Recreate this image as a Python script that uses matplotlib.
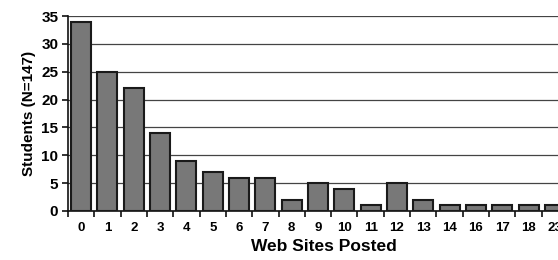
import matplotlib
matplotlib.use("Agg")
import matplotlib.pyplot as plt
import numpy as np

categories = ["0", "1", "2", "3", "4", "5", "6", "7", "8", "9", "10", "11", "12", "13", "14", "16", "17", "18", "23"]
students = [34, 25, 22, 14, 9, 7, 6, 6, 2, 5, 4, 1, 5, 2, 1, 1, 1, 1, 1]
y_ticks = [0, 5, 10, 15, 20, 25, 30, 35]

plt.rcParams['font.family'] = ['Liberation Sans', 'DejaVu Sans']

fig = plt.figure(figsize=(5.58, 2.6), dpi=100)
ax = fig.add_axes([68/558, 49/260, 500/558, 195/260])

x = np.arange(len(categories))
ax.bar(x, students, width=0.76, color="#787878", edgecolor="#1a1a1a", linewidth=1.5, zorder=3)

ax.set_xlim(-0.5, len(categories) - 0.5)
ax.set_ylim(0, 35)
ax.set_yticks(y_ticks)
ax.set_yticklabels([str(v) for v in y_ticks], fontweight="bold", fontsize=11)
ax.yaxis.grid(True, color="#444444", linewidth=0.9, zorder=0)

ax.set_xticks(x)
ax.set_xticklabels(categories, fontweight="bold", fontsize=9.5)
ax.tick_params(axis="x", which="major", length=0, pad=8)
ax.set_xticks(np.arange(-0.5, len(categories), 1), minor=True)
ax.tick_params(axis="x", which="minor", length=4, width=1.2, color="#111111", direction="out")
ax.tick_params(axis="y", length=4, width=1.2, color="#111111", direction="out", pad=3)

for s in ["top", "right"]:
    ax.spines[s].set_visible(False)
ax.spines["left"].set_linewidth(1.2)
ax.spines["bottom"].set_linewidth(1.2)
ax.spines["left"].set_color("#111111")
ax.spines["bottom"].set_color("#111111")

ax.set_xlabel("Web Sites Posted", fontweight="bold", fontsize=12.5)
ax.xaxis.set_label_coords(256/500, -0.145)
ax.set_ylabel("Students (N=147)", fontweight="bold", fontsize=11, labelpad=4)

fig.savefig("out.png", dpi=100)
